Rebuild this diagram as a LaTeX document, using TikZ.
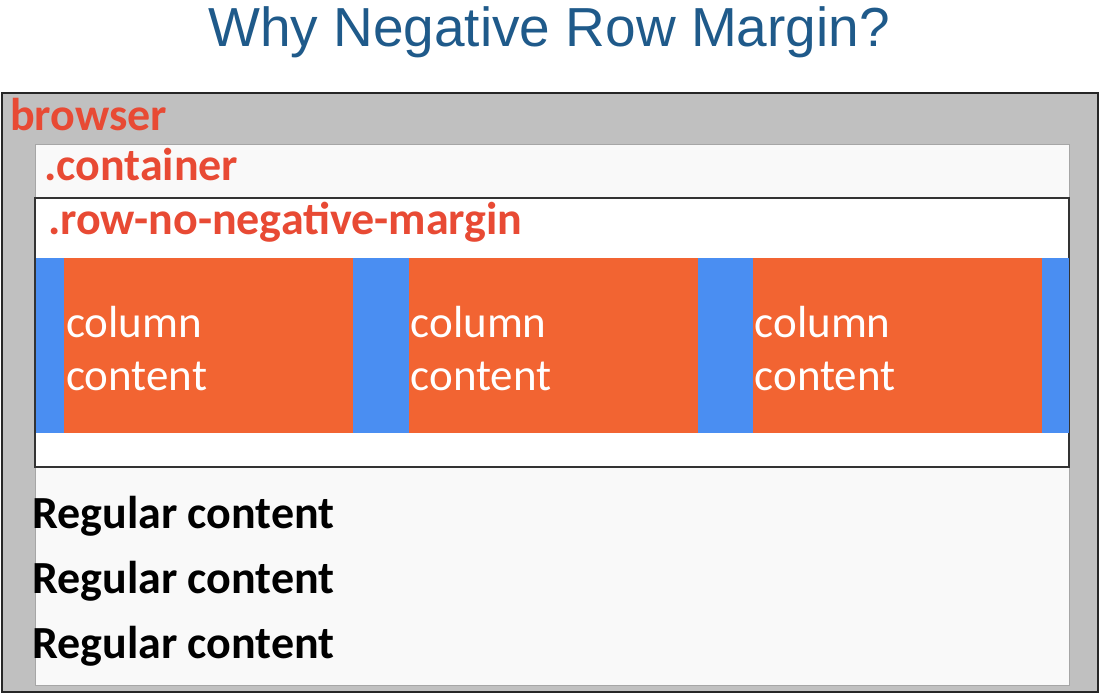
\documentclass[tikz,border=0pt]{standalone}
\usepackage{fontspec}
\setmainfont{Carlito}
\newfontfamily\titlefont{Liberation Sans}
\usepackage{xcolor}
\definecolor{titleblue}{RGB}{31,90,138}
\definecolor{labelred}{RGB}{232,74,52}
\definecolor{colorange}{RGB}{242,100,50}
\definecolor{gutterblue}{RGB}{74,142,242}
\definecolor{browsergray}{RGB}{192,192,192}
\definecolor{containerfill}{RGB}{249,249,249}

\begin{document}
\begin{tikzpicture}[
  x=1pt, y=-1pt,
  box/.style={rectangle, inner sep=0pt, outer sep=0pt},
  tag/.style={anchor=base west, inner sep=0pt, text=labelred, font=\bfseries\fontsize{46}{46}\selectfont},
  coltext/.style={anchor=north west, inner sep=0pt, align=left, text=white, font=\fontsize{45}{53}\selectfont},
  regular/.style={anchor=base west, inner sep=0pt, font=\bfseries\fontsize{46}{46}\selectfont}
]
\useasboundingbox (0,0) rectangle (1100,696);

\node[anchor=base, inner sep=0pt, text=titleblue, font=\titlefont\fontsize{55}{55}\selectfont] (title) at (549,46) {Why Negative Row Margin?};

% nested boxes
\node[box, draw=black!85, line width=2pt, fill=browsergray, minimum width=1096pt, minimum height=599pt] (browser) at (550,392.5) {};
\node[box, draw=black!35, line width=1pt, fill=containerfill, minimum width=1034pt, minimum height=541pt] (container) at (552,414.5) {};
\node[box, draw=black!80, line width=1.2pt, fill=white, minimum width=1034pt, minimum height=269pt] (row) at (552,332.5) {};
\node[box, fill=gutterblue, minimum width=1033pt, minimum height=175pt] (gutters) at (552,345.5) {};
\foreach \i/\x in {1/64, 2/408.5, 3/752.5}
  \node[box, fill=colorange, minimum width=289pt, minimum height=175pt, anchor=north west] (col\i) at (\x,258) {};

% labels
\node[tag] (browserlbl) at (10,130) {browser};
\node[tag] (containerlbl) at (44,180) {.container};
\node[tag] (rowlbl) at (48,234) {.row-no-negative-margin};
\foreach \i in {1,2,3}
  \node[coltext] (coltext\i) at ([xshift=2pt,yshift=-48pt]col\i.north west) {column\\content};
\foreach \i/\y in {1/528, 2/593, 3/658}
  \node[regular] (regular\i) at (32,\y) {Regular content};
\end{tikzpicture}
\end{document}
